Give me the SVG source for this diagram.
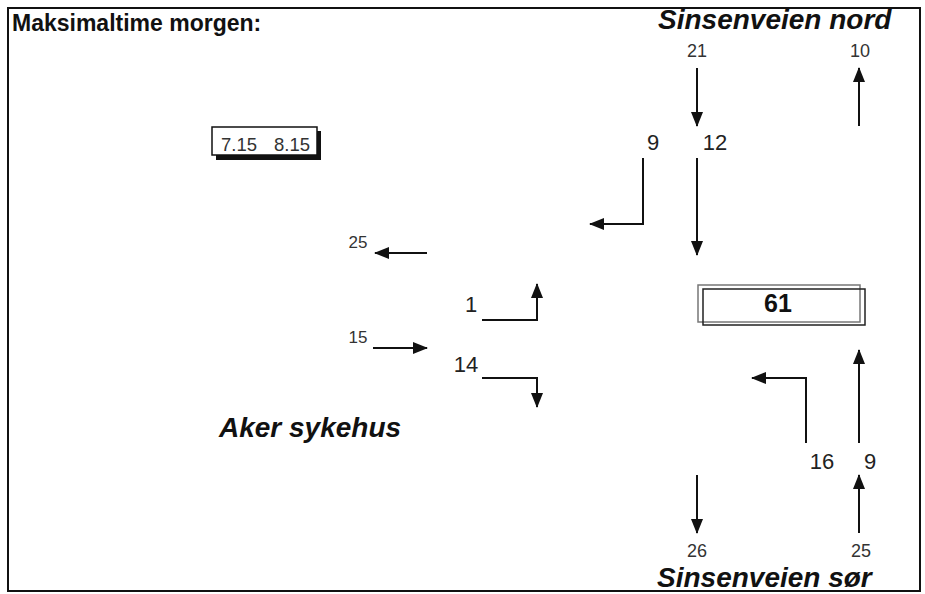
<svg xmlns="http://www.w3.org/2000/svg" width="925" height="594" viewBox="0 0 925 594">
<style>
text{font-family:"Liberation Sans",Arial,sans-serif;fill:#222}
.title{font-size:23px;font-weight:bold;fill:#111}
.road{font-size:28px;font-weight:bold;font-style:italic;fill:#111}
.sm{font-size:18px;text-anchor:middle;fill:#333}
.md{font-size:22px;text-anchor:middle;fill:#222}
.lt{font-size:17px;text-anchor:middle;fill:#333}
.arr{fill:none;stroke:#111;stroke-width:2;marker-end:url(#ah)}
</style>
<defs>
<marker id="ah" markerUnits="userSpaceOnUse" markerWidth="15" markerHeight="12" refX="14" refY="6" orient="auto">
<path d="M0,0 L15,6 L0,12 Z" fill="#111"/>
</marker>
</defs>
<rect x="0" y="0" width="925" height="594" fill="#fff"/>
<g id="labels">
<text class="title" x="12" y="31">Maksimaltime morgen:</text>
<text class="road" x="658" y="29">Sinsenveien nord</text>
<text class="road" x="219" y="437">Aker sykehus</text>
<text class="road" x="657" y="587">Sinsenveien sør</text>
</g>
<g id="period">
<rect x="216" y="131" width="105" height="29" fill="#111"/>
<rect x="212" y="127" width="105" height="28" fill="#fff" stroke="#111" stroke-width="1.5"/>
<text x="221" y="151" style="font-size:18.5px;fill:#333"><tspan x="221">7.15</tspan><tspan x="274">8.15</tspan></text>
</g>
<g id="total">
<rect x="698" y="285" width="162" height="37" fill="#fff" stroke="#777" stroke-width="1.5"/>
<rect x="703" y="289" width="162" height="36" fill="none" stroke="#222" stroke-width="1.5"/>
<text x="778" y="312" style="font-size:25px;font-weight:bold;text-anchor:middle;fill:#111">61</text>
</g>
<g id="connectors">
<path class="arr" d="M697,68 V126"/>
<path class="arr" d="M859,126 V68"/>
<path class="arr" d="M643,158 V224 H590"/>
<path class="arr" d="M697,158 V255"/>
<path class="arr" d="M427,253 H375"/>
<path class="arr" d="M482,320 H537 V284"/>
<path class="arr" d="M373,348 H427"/>
<path class="arr" d="M482,378 H537 V407"/>
<path class="arr" d="M806,443 V378 H752"/>
<path class="arr" d="M859,443 V350"/>
<path class="arr" d="M859,533 V475"/>
<path class="arr" d="M697,475 V533"/>
</g>
<g id="n-north-in"><text class="sm" x="697" y="57">21</text></g>
<g id="n-north-out"><text class="sm" x="860" y="57">10</text></g>
<g id="n-north-right"><text class="md" x="653" y="150">9</text></g>
<g id="n-north-through"><text class="md" x="715" y="150">12</text></g>
<g id="n-west-out"><text class="lt" x="358" y="248">25</text></g>
<g id="n-west-left"><text class="md" x="471" y="312">1</text></g>
<g id="n-west-in"><text class="lt" x="358" y="343">15</text></g>
<g id="n-west-right"><text class="md" x="466" y="372">14</text></g>
<g id="n-south-left"><text class="md" x="822" y="469">16</text></g>
<g id="n-south-through"><text class="md" x="870" y="469">9</text></g>
<g id="n-south-out"><text class="sm" x="697" y="557">26</text></g>
<g id="n-south-in"><text class="sm" x="861" y="557">25</text></g>
<rect x="8" y="8" width="912" height="583" fill="none" stroke="#111" stroke-width="2"/>
</svg>
